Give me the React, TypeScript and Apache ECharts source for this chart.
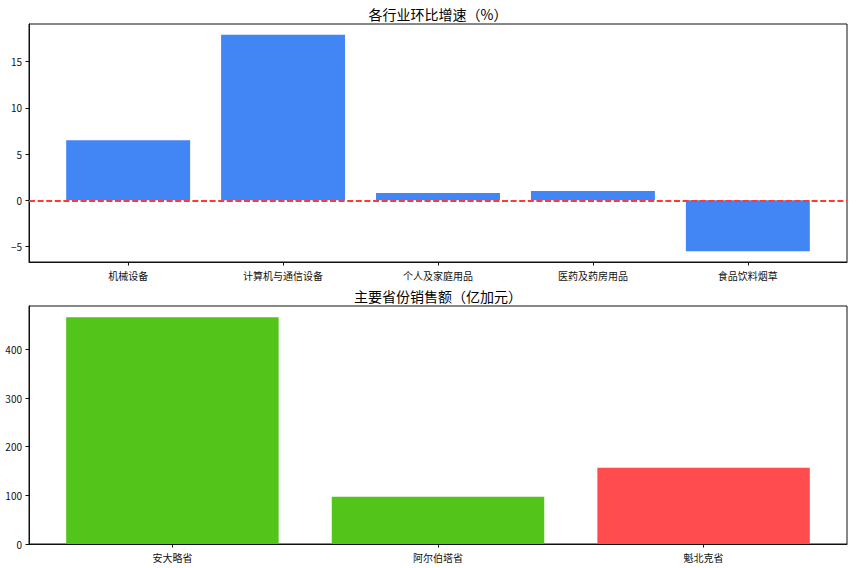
import { useEffect, useRef } from 'react'
import * as echarts from 'echarts'

// top panel: month-on-month growth by industry (%)
const INDUSTRIES = ['机械设备', '计算机与通信设备', '个人及家庭用品', '医药及药房用品', '食品饮料烟草']
const GROWTH = [6.5, 17.9, 0.8, 1.0, -5.5]
const GROWTH_TICKS = [-5, 0, 5, 10, 15]

// bottom panel: sales by province (亿加元)
const PROVINCES = ['安大略省', '阿尔伯塔省', '魁北克省']
const SALES = [466, 97, 157]
const SALES_COLORS = ['#52c41a', '#52c41a', '#ff4d4f']
const SALES_TICKS = [0, 100, 200, 300, 400]

const TITLES = ['各行业环比增速（%）', '主要省份销售额（亿加元）']

const W = 856
const H = 568
const LEFT = 29
const RIGHT = 9
const GRID_W = W - LEFT - RIGHT
const GRIDS = [
  { top: 24, height: 238 },
  { top: 306, height: 238 },
]
const FONT = '"Noto Sans CJK SC", "DejaVu Sans", sans-serif'
const INK = '#111'

// matplotlib-like limits: bars of width 0.8, 5% margins
function xRange(n: number) {
  const pad = 0.05 * (n - 1 + 0.8)
  return [-0.4 - pad, n - 1 + 0.4 + pad]
}

function yRange(values: number[]) {
  const lo = Math.min(0, ...values)
  const hi = Math.max(0, ...values)
  const pad = 0.05 * (hi - lo)
  return [lo < 0 ? lo - pad : 0, hi + pad]
}

const minus = (v: number) => (v < 0 ? '\u2212' + Math.abs(v) : String(v))

function xAxis(gridIndex: number, names: string[]) {
  const [min, max] = xRange(names.length)
  const idx = names.map((_, i) => i)
  return {
    type: 'value' as const,
    gridIndex,
    min,
    max,
    splitLine: { show: false },
    axisLine: { show: true, onZero: false, lineStyle: { color: INK, width: 1 } },
    axisTick: { show: true, length: 3.5, customValues: idx, lineStyle: { color: INK } },
    axisLabel: {
      customValues: idx,
      formatter: (v: number) => names[Math.round(v)] ?? '',
      fontSize: 10,
      color: INK,
      margin: 8,
      fontFamily: FONT,
    },
  }
}

function yAxis(gridIndex: number, values: number[], ticks: number[]) {
  const [min, max] = yRange(values)
  return {
    type: 'value' as const,
    gridIndex,
    min,
    max,
    splitLine: { show: false },
    axisLine: { show: true, onZero: false, lineStyle: { color: INK, width: 1 } },
    axisTick: { show: true, length: 3.5, customValues: ticks, lineStyle: { color: INK } },
    axisLabel: {
      customValues: ticks,
      formatter: (v: number) => minus(v),
      fontSize: 10,
      color: INK,
      margin: 7,
      fontFamily: FONT,
    },
  }
}

function barWidth(n: number) {
  const [min, max] = xRange(n)
  return (0.8 * GRID_W) / (max - min)
}

function buildOption(): echarts.EChartsOption {
  return {
    animation: false,
    textStyle: { fontFamily: FONT },
    grid: GRIDS.map((g) => ({
      left: LEFT,
      width: GRID_W,
      top: g.top,
      height: g.height,
      show: true,
      borderColor: INK,
      borderWidth: 1,
      containLabel: false,
    })),
    xAxis: [xAxis(0, INDUSTRIES), xAxis(1, PROVINCES)],
    yAxis: [yAxis(0, GROWTH, GROWTH_TICKS), yAxis(1, SALES, SALES_TICKS)],
    graphic: TITLES.map((text, i) => ({
      type: 'text',
      x: LEFT + GRID_W / 2,
      y: GRIDS[i].top - 10,
      style: {
        text,
        fontSize: 14,
        fontFamily: FONT,
        fill: '#000',
        textAlign: 'center',
        textVerticalAlign: 'middle',
      },
    })),
    series: [
      {
        type: 'bar',
        xAxisIndex: 0,
        yAxisIndex: 0,
        barWidth: barWidth(INDUSTRIES.length),
        itemStyle: { color: '#4285f4' },
        data: GROWTH.map((v, i) => [i, v]),
        markLine: {
          silent: true,
          symbol: 'none',
          label: { show: false },
          lineStyle: { color: '#ff3838', type: [6, 2.6], width: 2 },
          data: [{ yAxis: 0 }],
        },
      },
      {
        type: 'bar',
        xAxisIndex: 1,
        yAxisIndex: 1,
        barWidth: barWidth(PROVINCES.length),
        data: SALES.map((v, i) => ({ value: [i, v], itemStyle: { color: SALES_COLORS[i] } })),
      },
    ],
  }
}

export default function App() {
  const ref = useRef<HTMLDivElement>(null)

  useEffect(() => {
    const el = ref.current
    if (!el) return
    const chart = echarts.init(el, undefined, { renderer: 'svg' })
    chart.setOption(buildOption())
    return () => chart.dispose()
  }, [])

  return (
    <div
      ref={ref}
      style={{ position: 'fixed', left: 0, top: 0, width: W, height: H, background: '#fff' }}
    />
  )
}
